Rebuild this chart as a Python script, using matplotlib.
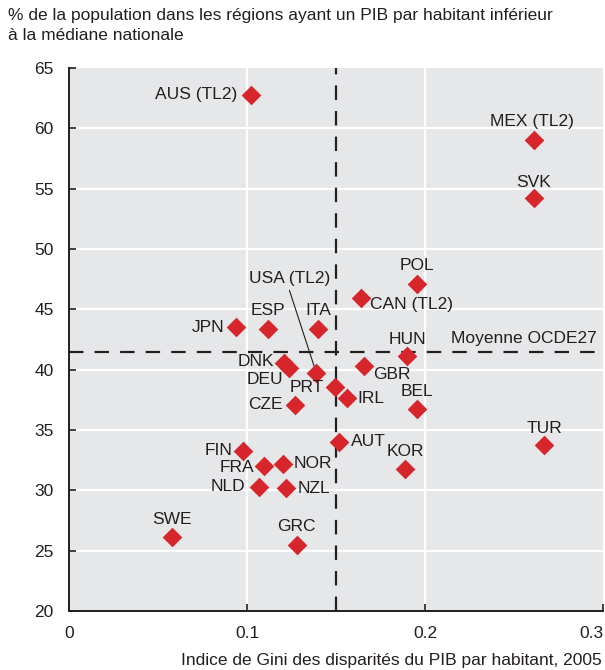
import matplotlib
matplotlib.use("Agg")
import matplotlib.pyplot as plt
from matplotlib import font_manager

names = {f.name for f in font_manager.fontManager.ttflist}
fam = 'Liberation Sans Narrow' if 'Liberation Sans Narrow' in names else 'Liberation Sans'
plt.rcParams['font.family'] = [fam, 'DejaVu Sans']

countries = ["AUS (TL2)", "MEX (TL2)", "SVK", "POL", "CAN (TL2)", "ESP", "ITA", "JPN",
             "HUN", "DNK", "DEU", "USA (TL2)", "PRT", "IRL", "GBR", "BEL", "CZE", "AUT",
             "KOR", "FIN", "FRA", "NOR", "NLD", "NZL", "SWE", "GRC", "TUR"]
gini = [0.102, 0.261, 0.261, 0.1955, 0.164, 0.112, 0.140, 0.094,
        0.190, 0.121, 0.1236, 0.139, 0.1494, 0.156, 0.166, 0.1955, 0.127, 0.1517,
        0.189, 0.098, 0.1096, 0.120, 0.107, 0.122, 0.058, 0.128, 0.267]
share = [62.8, 59.0, 54.2, 47.1, 45.9, 43.4, 43.4, 43.5,
         41.1, 40.55, 40.1, 39.7, 38.6, 37.65, 40.3, 36.7, 37.1, 34.0,
         31.8, 33.3, 32.0, 32.2, 30.3, 30.2, 26.1, 25.5, 33.75]
oecd_gini = 0.15
oecd_share = 41.5
xticks = [0, 0.1, 0.2, 0.3]
xticklabels = ["0", "0.1", "0.2", "0.3"]
yticks = [20, 25, 30, 35, 40, 45, 50, 55, 60, 65]

# label placement: (dx px, dy px, ha)
place = {
    "AUS (TL2)": (-13, 0, 'right'), "MEX (TL2)": (-2, 19, 'center'), "SVK": (0, 16, 'center'),
    "POL": (0, 18, 'center'), "CAN (TL2)": (9, -6, 'left'), "ESP": (0, 18, 'center'),
    "ITA": (0, 18, 'center'), "JPN": (-12, 0, 'right'), "HUN": (0, 17, 'center'),
    "DNK": (-10, 2, 'right'), "DEU": (-6, -11, 'right'), "USA (TL2)": (-27, 95, 'center'),
    "PRT": (-11, -1, 'right'), "IRL": (11, 0, 'left'), "GBR": (9, -8, 'left'),
    "BEL": (0, 18, 'center'), "CZE": (-12, 0, 'right'), "AUT": (12, 1, 'left'),
    "KOR": (0, 17, 'center'), "FIN": (-11, 0, 'right'), "FRA": (-10, -1, 'right'),
    "NOR": (11, 0, 'left'), "NLD": (-14, 0, 'right'), "NZL": (11, -1, 'left'),
    "SWE": (0, 18, 'center'), "GRC": (0, 18, 'center'), "TUR": (0, 17, 'center'),
}

bg = '#e6e7e8'
red = '#d7262b'
txt = '#231f20'
fs = 12.5

fig = plt.figure(figsize=(6.05, 6.7), dpi=100)
ax = fig.add_axes([69/605, 1-611/670, (603-69)/605, (611-68)/670])
ax.set_facecolor(bg)
ax.set_xlim(0, 0.3)
ax.set_ylim(20, 65)
for x in [0.1, 0.2]:
    ax.axvline(x, color='white', lw=1.6, zorder=1)
for y in yticks[1:-1]:
    ax.axhline(y, color='white', lw=1.6, zorder=1)
ax.axvline(oecd_gini, color=txt, lw=1.6, dashes=(6.5, 5), zorder=2)
ax.axhline(oecd_share, color=txt, lw=1.6, dashes=(6.5, 5), zorder=2)

ax.scatter(gini, share, marker='D', s=100, color=red, zorder=4, linewidths=0)

for c, x, y in zip(countries, gini, share):
    dx, dy, ha = place[c]
    ax.annotate(c, (x, y), xytext=(dx*0.72, dy*0.72), textcoords='offset points',
                ha=ha, va='center', fontsize=fs, color=txt, zorder=5)
    if c == "USA (TL2)":
        ax.annotate("", (x, y), xytext=(-27*0.72, 83*0.72), textcoords='offset points',
                    arrowprops=dict(arrowstyle='-', color=txt, lw=0.8, shrinkA=0, shrinkB=5))

ax.text(0.2965, oecd_share + 0.5, "Moyenne OCDE27", ha='right', va='bottom', fontsize=fs, color=txt, zorder=5)

for s in ['top', 'right']:
    ax.spines[s].set_visible(False)
for s in ['left', 'bottom']:
    ax.spines[s].set_color(txt)
    ax.spines[s].set_linewidth(1.4)
ax.set_xticks(xticks)
ax.set_xticklabels(xticklabels)
ax.set_yticks(yticks)
ax.tick_params(axis='both', direction='in', length=5, width=1.2, color=txt,
               labelsize=fs, labelcolor=txt)
ax.tick_params(axis='x', pad=11)
ax.tick_params(axis='y', pad=11)
ax.get_xticklabels()[-1].set_ha('right')

fig.text(8/605, 1-8/670, "% de la population dans les régions ayant un PIB par habitant inférieur\nà la médiane nationale",
         ha='left', va='top', fontsize=fs, color=txt, linespacing=1.4)
fig.text(602/605, 1-661/670, "Indice de Gini des disparités du PIB par habitant, 2005",
         ha='right', va='center', fontsize=fs, color=txt)

fig.savefig("out.png", dpi=100)
